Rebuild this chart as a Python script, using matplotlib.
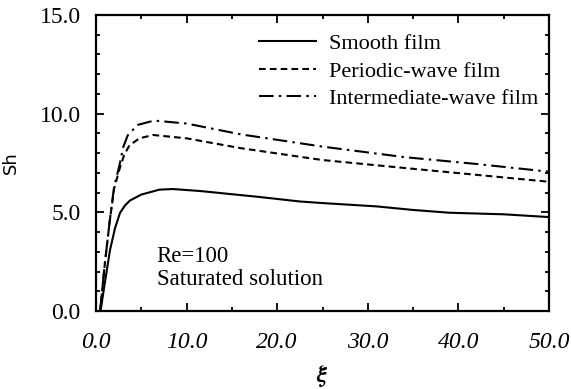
import numpy as np
import matplotlib
matplotlib.use("Agg")
import matplotlib.pyplot as plt
from matplotlib.ticker import MultipleLocator, FormatStrFormatter

plt.rcParams["font.family"] = ["Liberation Serif", "DejaVu Serif"]
plt.rcParams["mathtext.fontset"] = "stix"

# ---- data (Re=100, saturated solution) ----
xi_smooth = [0.5, 1.0, 1.55, 2.1, 2.65, 3.2, 3.75, 5.0, 7.0, 8.5, 11.5,
             18.0, 22.5, 25.0, 31.0, 35.0, 39.0, 45.0, 50.0]
sh_smooth = [0.0, 1.5, 3.1, 4.2, 4.97, 5.35, 5.6, 5.9, 6.15, 6.18, 6.08,
             5.78, 5.55, 5.47, 5.3, 5.12, 4.98, 4.9, 4.76]

xi_periodic = [0.45, 1.0, 1.5, 2.0, 2.6, 3.1, 3.7, 4.8, 6.3, 10.0, 16.0,
               25.0, 34.0, 42.0, 50.0]
sh_periodic = [0.0, 2.5, 4.5, 6.2, 7.2, 7.9, 8.4, 8.75, 8.92, 8.75, 8.25,
               7.65, 7.25, 6.9, 6.55]

xi_inter = [0.45, 1.0, 1.5, 2.0, 2.6, 3.0, 3.5, 4.6, 6.4, 10.0, 16.0,
            25.0, 34.0, 42.0, 50.0]
sh_inter = [0.0, 2.5, 4.5, 6.3, 7.4, 8.3, 8.9, 9.43, 9.65, 9.5, 8.95,
            8.33, 7.8, 7.45, 7.06]

labels = ["Smooth film", "Periodic-wave film", "Intermediate-wave film"]

fig = plt.figure(figsize=(5.71, 3.89), dpi=100)
ax = fig.add_axes([96 / 571, 1 - 311 / 389, (549 - 96) / 571, (311 - 15) / 389])

lw = 1.5
ax.plot(xi_smooth, sh_smooth, color="black", lw=lw, ls="-", label=labels[0])
ax.plot(xi_periodic, sh_periodic, color="black", lw=lw, ls=(0, (3.2, 2.0)),
        label=labels[1])
ax.plot(xi_inter, sh_inter, color="black", lw=lw, ls=(0, (7.0, 2.5, 1.2, 2.5)),
        label=labels[2])

ax.set_xlim(0, 50)
ax.set_ylim(0, 15)
ax.xaxis.set_major_locator(MultipleLocator(10))
ax.xaxis.set_minor_locator(MultipleLocator(5))
ax.yaxis.set_major_locator(MultipleLocator(5))
ax.yaxis.set_minor_locator(MultipleLocator(1))
ax.xaxis.set_major_formatter(FormatStrFormatter("%.1f"))
ax.yaxis.set_major_formatter(FormatStrFormatter("%.1f"))

ax.tick_params(which="both", direction="in", top=True, right=True, width=1.3)
ax.tick_params(which="major", length=6, labelsize=17)
ax.tick_params(axis="x", which="major", pad=15)
ax.tick_params(axis="y", which="major", pad=11)
ax.tick_params(which="minor", length=3)
for lab in ax.get_xticklabels():
    lab.set_fontstyle("italic")
for sp in ax.spines.values():
    sp.set_linewidth(1.6)

ax.set_xlabel(r"$\boldsymbol{\xi}$", fontsize=17, labelpad=7)
ax.set_ylabel("Sh", fontsize=13, family="DejaVu Sans", labelpad=14)

ax.text(6.7, 3.3, "Re=100\nSaturated solution", fontsize=16.5,
        ha="left", va="top", linespacing=1.15)

ax.legend(loc="upper right", bbox_to_anchor=(0.995, 0.968), frameon=False,
          fontsize=16, handlelength=2.6, handletextpad=0.55,
          labelspacing=0.32, borderaxespad=0.0)

fig.savefig("out.png", dpi=100)
